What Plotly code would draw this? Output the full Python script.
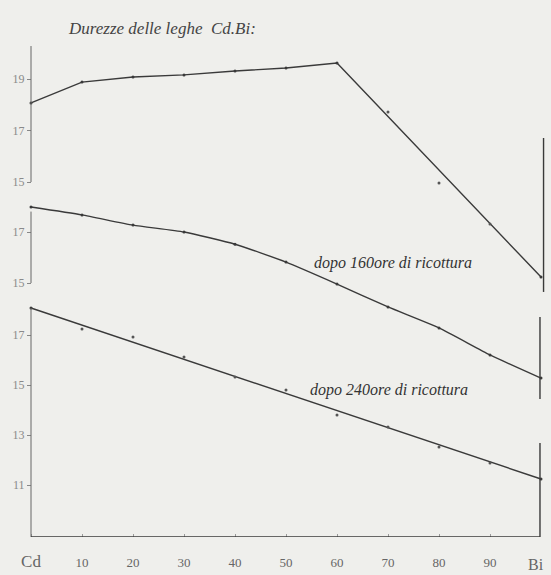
import plotly.graph_objects as go

# ---------------- data ----------------
x_labels = ["Cd", "10", "20", "30", "40", "50", "60", "70", "80", "90"]
x_ticks = [0, 10, 20, 30, 40, 50, 60, 70, 80, 90]
end_label = "Bi"

# top curve (as cast)
top_x = [0, 10, 20, 30, 40, 50, 60, 100]
top_y = [18.07, 18.88, 19.08, 19.16, 19.31, 19.43, 19.62, 11.31]
top_dots_x = [70, 80, 90]
top_dots_y = [17.72, 14.96, 13.37]

# after 160 h annealing
mid_x = [0, 10, 20, 30, 40, 50, 60, 70, 80, 90, 100]
mid_y = [17.98, 17.67, 17.27, 17.0, 16.52, 15.82, 14.96, 14.06, 13.24, 12.18, 11.27]

# after 240 h annealing
bot_line_x = [0, 100]
bot_line_y = [18.08, 11.24]
bot_dots_x = [10, 20, 30, 40, 50, 60, 70, 80, 90]
bot_dots_y = [17.24, 16.92, 16.12, 15.32, 14.8, 13.8, 13.32, 12.52, 11.88]

top_ticks = [19, 17, 15]
mid_ticks = [17, 15]
bot_ticks = [17, 15, 13, 11]

# ---------------- layout geometry ----------------
W, H = 551, 575
PT, PB = 40, 537          # plot area top/bottom pixel
X0, X100 = 31, 541        # pixel of x=0 and x=100
PL, PR = 25, 547          # plot area left/right pixel (a bit wider so edge lines are not clipped)
PH = PB - PT
kx = (X100 - X0) / 100.0
x_range = [-(X0 - PL) / kx, 100 + (PR - X100) / kx]
yaxis_pos = (X0 - PL) / (PR - PL)

def yrange(v0, p0, k):
    ymax = v0 + (p0 - PT) / k
    return [ymax - PH / k, ymax]

r1 = yrange(19, 79, 25.75)
r2 = yrange(17, 232, 25.5)
r3 = yrange(17, 335, 25.0)

ink = "#3a3a3a"
pale = "#8a8a8a"
bg = "#efefec"
font_fam = "Liberation Serif"

fig = go.Figure()
fig.add_trace(go.Scatter(x=top_x, y=top_y, mode="lines+markers", yaxis="y",
                         line=dict(color=ink, width=1.4), marker=dict(size=3, color=ink),
                         cliponaxis=False, showlegend=False, hoverinfo="skip"))
fig.add_trace(go.Scatter(x=top_dots_x, y=top_dots_y, mode="markers", yaxis="y",
                         marker=dict(size=3, color="#555"), showlegend=False, hoverinfo="skip"))
fig.add_trace(go.Scatter(x=mid_x, y=mid_y, mode="lines+markers", yaxis="y2",
                         line=dict(color=ink, width=1.4, shape="spline", smoothing=0.5),
                         marker=dict(size=3, color=ink), cliponaxis=False, showlegend=False,
                         hoverinfo="skip"))
fig.add_trace(go.Scatter(x=bot_line_x, y=bot_line_y, mode="lines+markers", yaxis="y3",
                         line=dict(color=ink, width=1.4), marker=dict(size=3, color=ink),
                         cliponaxis=False, showlegend=False, hoverinfo="skip"))
fig.add_trace(go.Scatter(x=bot_dots_x, y=bot_dots_y, mode="markers", yaxis="y3",
                         marker=dict(size=3, color="#555"), showlegend=False, hoverinfo="skip"))

shapes = []
def vline(x, y0, y1, yref, col=ink, w=1.2):
    shapes.append(dict(type="line", xref="x", yref=yref, x0=x, x1=x, y0=y0, y1=y1,
                       line=dict(color=col, width=w)))

# axis brackets
vline(0, 20.28, 15, "y", col="#666", w=1)
vline(100.5, 16.71, 10.73, "y", w=1.4)
vline(0, 17.8, 15, "y2", col="#666", w=1)
vline(99.8, 13.67, 10.45, "y2", w=1.4)
vline(0, 18.08, r3[0], "y3", col="#666", w=1)
vline(99.8, 12.68, r3[0], "y3", w=1.4)

def yax(rng, ticks, overlay=None):
    d = dict(range=rng, domain=[0, 1], tickvals=ticks, ticktext=[str(t) for t in ticks],
             ticks="outside", ticklen=4, tickcolor="#888", tickwidth=1,
             showgrid=False, zeroline=False, showline=False, automargin=False,
             anchor="free", position=yaxis_pos, side="left",
             tickfont=dict(family=font_fam, size=12, color=pale), fixedrange=True)
    if overlay:
        d.update(overlaying=overlay)
    return d

fig.update_layout(
    width=W, height=H,
    margin=dict(l=PL, r=W - PR, t=PT, b=H - PB, autoexpand=False),
    paper_bgcolor=bg, plot_bgcolor=bg,
    xaxis=dict(range=x_range, tickvals=x_ticks,
               ticktext=[f"<span style='font-size:17px'>{t}</span>" if t == "Cd" else t
                         for t in x_labels],
               ticks="inside", ticklen=3, tickcolor="#999",
               showline=False, showgrid=False, zeroline=False, automargin=False,
               tickfont=dict(family=font_fam, size=13, color="#666"),
               ticklabelstandoff=16, fixedrange=True),
    yaxis=yax(r1, top_ticks),
    yaxis2=yax(r2, mid_ticks, overlay="y"),
    yaxis3=yax(r3, bot_ticks, overlay="y"),
    shapes=shapes + [dict(type="line", xref="x", yref="y3", x0=0, x1=99.8,
                          y0=r3[0], y1=r3[0], line=dict(color=ink, width=1.4))],
    showlegend=False,
    annotations=[
        dict(text=end_label, xref="x", yref="paper", x=100, y=(PB - 564) / PH,
             xanchor="center", yanchor="middle", xshift=-5, showarrow=False,
             font=dict(family=font_fam, size=16, color="#666")),
        dict(text="Durezze delle leghe  Cd.Bi:", xref="paper", yref="paper",
             x=(66 - PL) / (PR - PL), y=(PB - 28) / PH, xanchor="left", yanchor="middle",
             showarrow=False, font=dict(family=font_fam, size=17, color="#444", style="italic")),
        dict(text="dopo 160ore di ricottura", xref="paper", yref="paper",
             x=(312 - PL) / (PR - PL), y=(PB - 263) / PH, xanchor="left", yanchor="middle",
             showarrow=False, font=dict(family=font_fam, size=16, color="#333", style="italic")),
        dict(text="dopo 240ore di ricottura", xref="paper", yref="paper",
             x=(308 - PL) / (PR - PL), y=(PB - 390) / PH, xanchor="left", yanchor="middle",
             showarrow=False, font=dict(family=font_fam, size=16, color="#333", style="italic")),
    ],
)

fig.write_html("out.html", config={"displayModeBar": False, "staticPlot": True},
               post_script="document.body.style.margin='0';document.body.style.background='%s';" % bg)
